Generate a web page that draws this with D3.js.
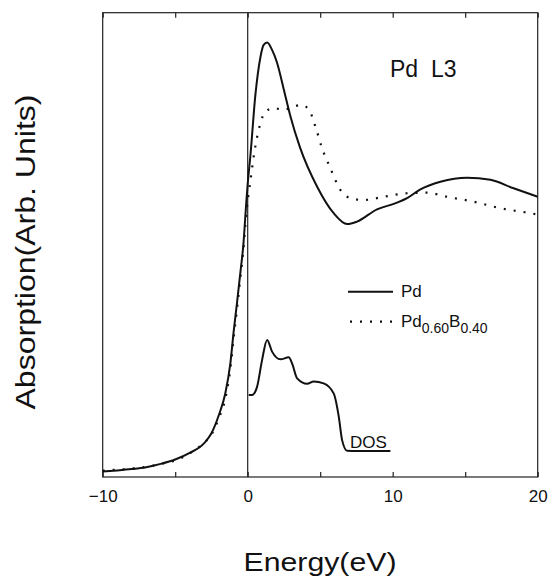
<!DOCTYPE html>
<html>
<head>
<meta charset="utf-8">
<script src="https://cdn.jsdelivr.net/npm/d3@7"></script>
<style>
  html, body { margin: 0; padding: 0; background: #fff; }
  svg { display: block; }
</style>
</head>
<body>
<div id="chart"></div>
<script>
// Pd L3 edge absorption (energy in eV, absorption in arb. units)
const pdEnergy = [-10, -9, -8, -7, -6, -5, -4, -3, -2.5, -2.0, -1.55, -1.2, -0.97, -0.73, -0.5, -0.3, -0.1, 0,
  0.19, 0.53, 0.88, 1.1, 1.34, 1.68, 2.03, 2.48, 2.94, 3.6, 4.79, 5.93, 6.86, 7.54, 8.92, 10.07, 10.99, 11.91,
  13.29, 15.13, 16.74, 18.34, 20];
const pdAbs = [0.020, 0.024, 0.029, 0.036, 0.048, 0.064, 0.088, 0.124, 0.160, 0.225, 0.305, 0.414, 0.531,
  0.641, 0.751, 0.850, 1.003, 1.073, 1.179, 1.399, 1.538, 1.582, 1.591, 1.564, 1.516, 1.421, 1.322, 1.208, 1.063,
  0.966, 0.926, 0.935, 0.980, 1.000, 1.021, 1.053, 1.081, 1.096, 1.088, 1.057, 1.026];

const pdbEnergy = [-10, -9.27, -8.58, -7.89, -7.2, -5.94, -4.64, -3.49, -2.92, -2.5, -2.0, -1.54,
  -1.2, -0.97, -0.73, -0.5, -0.3, -0.1, 0.07, 0.23, 0.41, 0.65, 0.88, 1.22, 1.79, 2.48, 3.06, 3.75, 4.3,
  4.7, 5.1, 5.7, 6.39, 7.08, 8.0, 9.38, 10.99, 12.37, 13.75, 15.59, 17.43, 19.5, 20];
const pdbAbs = [0.023, 0.026, 0.028, 0.032, 0.036, 0.048, 0.068, 0.105, 0.129, 0.156, 0.214, 0.288,
  0.395, 0.509, 0.619, 0.732, 0.831, 0.963, 1.040, 1.102, 1.172, 1.245, 1.296, 1.337, 1.351, 1.344, 1.355,
  1.362, 1.337, 1.278, 1.208, 1.131, 1.051, 1.021, 1.014, 1.026, 1.039, 1.041, 1.026, 1.008, 0.984, 0.966, 0.961];

// d-band density of states, drawn on the same axes
const dosEnergy = [0.07, 0.3, 0.65, 0.99, 1.34, 1.68, 2.26, 2.83, 3.06, 3.41, 4.1, 4.55, 5.24, 5.93, 6.28, 6.51,
  6.86, 7.5, 9.84];
const dosVal = [0.300, 0.300, 0.331, 0.428, 0.502, 0.459, 0.431, 0.438, 0.416, 0.361, 0.341, 0.350, 0.343, 0.306,
  0.221, 0.135, 0.096, 0.095, 0.095];

const xTicks = [-10, -5, 0, 5, 10, 15, 20];

const W = 550, H = 577;
const margin = { left: 102.7, right: 12.3, top: 12.7, bottom: 100 };
const FONT = '"Liberation Sans", Arial, sans-serif';

const svg = d3.select('#chart').append('svg')
  .attr('width', W).attr('height', H);

const x = d3.scaleLinear().domain([-10, 20]).range([margin.left, W - margin.right]);
const y = d3.scaleLinear().domain([0, 1.7]).range([H - margin.bottom, margin.top]);

const zip = (a, b) => a.map((v, i) => [v, b[i]]);
const line = d3.line()
  .x(d => x(d[0]))
  .y(d => y(d[1]))
  .curve(d3.curveMonotoneX);

// frame
svg.append('rect')
  .attr('x', x(-10)).attr('y', y(1.7))
  .attr('width', x(20) - x(-10)).attr('height', y(0) - y(1.7))
  .attr('fill', 'none').attr('stroke', '#222').attr('stroke-width', 1.2);

// vertical line at the Fermi level
svg.append('line')
  .attr('x1', x(0)).attr('x2', x(0))
  .attr('y1', y(1.7)).attr('y2', y(0))
  .attr('stroke', '#222').attr('stroke-width', 1.2);

// bottom axis: inward ticks, labels every 10 eV
const bottomAxis = svg.append('g')
  .attr('transform', `translate(0,${y(0)})`)
  .call(d3.axisBottom(x).tickValues(xTicks).tickSize(-5).tickPadding(13)
    .tickFormat(d => d % 10 === 0 ? d3.format('d')(d) : ''));
bottomAxis.select('.domain').remove();
bottomAxis.selectAll('line').attr('stroke', '#222').attr('stroke-width', 1.2);
bottomAxis.selectAll('text')
  .attr('font-family', FONT).attr('font-size', 17).attr('fill', '#111');

// top axis: inward ticks only
const topAxis = svg.append('g')
  .attr('transform', `translate(0,${y(1.7)})`)
  .call(d3.axisTop(x).tickValues(xTicks).tickSize(-5).tickFormat(''));
topAxis.select('.domain').remove();
topAxis.selectAll('line').attr('stroke', '#222').attr('stroke-width', 1.2);

// curves
svg.append('path')
  .attr('d', line(zip(pdEnergy, pdAbs)))
  .attr('fill', 'none').attr('stroke', '#111').attr('stroke-width', 2);

svg.append('path')
  .attr('d', line(zip(pdbEnergy, pdbAbs)))
  .attr('fill', 'none').attr('stroke', '#111').attr('stroke-width', 2.2)
  .attr('stroke-dasharray', '2,8');

svg.append('path')
  .attr('d', line(zip(dosEnergy, dosVal)))
  .attr('fill', 'none').attr('stroke', '#111').attr('stroke-width', 2);

// labels inside plot
svg.append('text')
  .attr('x', 390).attr('y', 77)
  .attr('font-family', FONT).attr('font-size', 23).attr('fill', '#111')
  .attr('xml:space', 'preserve')
  .text('Pd  L3');

svg.append('text')
  .attr('x', 350).attr('y', 448)
  .attr('font-family', FONT).attr('font-size', 17).attr('fill', '#111')
  .text('DOS');

// legend
const legend = svg.append('g').attr('font-family', FONT).attr('fill', '#111');
legend.append('line')
  .attr('x1', 348).attr('x2', 393).attr('y1', 291.7).attr('y2', 291.7)
  .attr('stroke', '#111').attr('stroke-width', 2);
legend.append('text')
  .attr('x', 401).attr('y', 297).attr('font-size', 17).text('Pd');

legend.append('line')
  .attr('x1', 350).attr('x2', 394).attr('y1', 321.7).attr('y2', 321.7)
  .attr('stroke', '#111').attr('stroke-width', 2.2).attr('stroke-dasharray', '2,8');
const lt = legend.append('text').attr('x', 401).attr('y', 327).attr('font-size', 17);
lt.append('tspan').text('Pd');
lt.append('tspan').attr('font-size', 14).attr('dy', 6).text('0.60');
lt.append('tspan').attr('dy', -6).text('B');
lt.append('tspan').attr('font-size', 14).attr('dy', 6).text('0.40');

// axis titles
svg.append('text')
  .attr('x', 320).attr('y', 571)
  .attr('text-anchor', 'middle')
  .attr('font-family', FONT).attr('font-size', 26).attr('fill', '#111')
  .attr('textLength', 153).attr('lengthAdjust', 'spacingAndGlyphs')
  .text('Energy(eV)');

svg.append('text')
  .attr('transform', 'translate(35,252) rotate(-90)')
  .attr('text-anchor', 'middle')
  .attr('font-family', FONT).attr('font-size', 27).attr('fill', '#111')
  .attr('textLength', 315).attr('lengthAdjust', 'spacingAndGlyphs')
  .text('Absorption(Arb. Units)');
</script>
</body>
</html>
